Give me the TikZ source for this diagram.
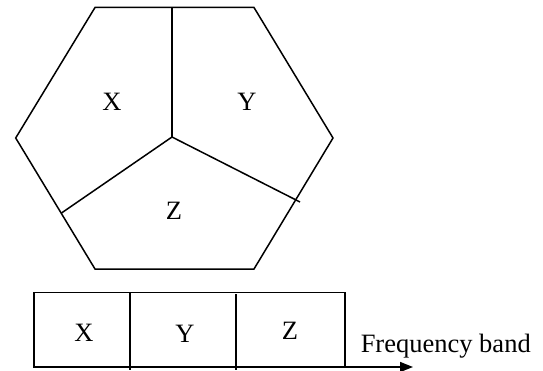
\documentclass[tikz,border=0pt]{standalone}
\usepackage{fontspec}
\setmainfont{Liberation Serif}
\usetikzlibrary{arrows.meta}
\begin{document}
\begin{tikzpicture}[x=1pt,y=-1pt,line width=1.5pt,
  lbl/.style={font=\fontsize{26.5}{30}\selectfont, inner sep=0pt},
  edge/.style={draw=black}]
\useasboundingbox (0,0) rectangle (543,371);
% hexagon
\coordinate (h1) at (95,7.5);
\coordinate (h2) at (254,7.5);
\coordinate (h3) at (333,138);
\coordinate (h4) at (254,269);
\coordinate (h5) at (95,269);
\coordinate (h6) at (15.7,138);
\coordinate (c) at (172,137);
\coordinate (t) at (172,7.5);
\coordinate (l) at (61.5,213);
\coordinate (r) at (300,202);
\draw[edge] (h1) -- (h2) -- (h3) -- (h4) -- (h5) -- (h6) -- cycle;
\draw[edge] (t) -- (c);
\draw[edge] (c) -- (l);
\draw[edge] (c) -- (r);
\node[lbl] (hx) at (112,102) {X};
\node[lbl] (hy) at (247,102) {Y};
\node[lbl] (hz) at (174,211) {Z};
% frequency band rectangle
\coordinate (b1) at (34,292.5);
\coordinate (b2) at (345,367);
\draw[edge] (b1) rectangle (b2);
\coordinate (d1t) at (130,292.5);
\coordinate (d1b) at (130,369.5);
\coordinate (d2t) at (236,294);
\coordinate (d2b) at (236,369.5);
\draw[edge] (d1t) -- (d1b);
\draw[edge] (d2t) -- (d2b);
\node[lbl] (bx) at (84,333) {X};
\node[lbl] (by) at (185,334) {Y};
\node[lbl] (bz) at (290,331) {Z};
\coordinate (a0) at (322,367);
\coordinate (a1) at (413,367);
\draw[edge,-{Triangle[length=13pt,width=10pt]}] (a0) -- (a1);
\node[lbl,anchor=base west] (fb) at (360,352) {Frequency band};
\end{tikzpicture}
\end{document}
